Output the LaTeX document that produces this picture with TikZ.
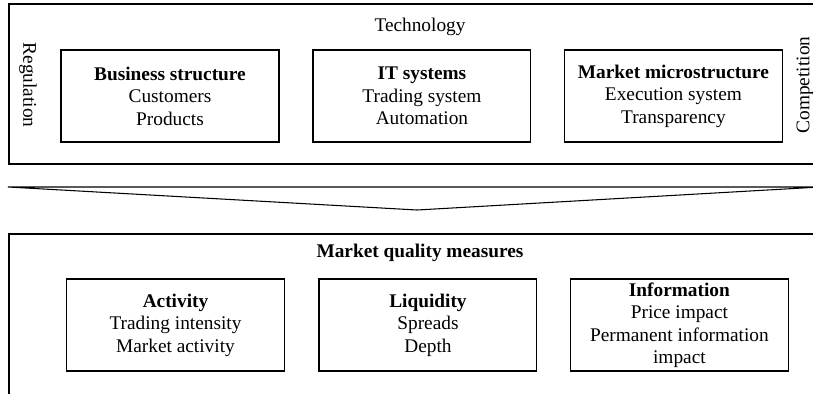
\documentclass[tikz,border=0pt]{standalone}
\usepackage{fontspec}
\setmainfont{Liberation Serif}
\begin{document}
\begin{tikzpicture}[x=0.02cm,y=-0.02cm,line width=0.6pt,
    every node/.style={font=\fontsize{11pt}{12.8pt}\selectfont},
    block/.style={rectangle,draw,align=center,minimum width=4.36cm,minimum height=1.84cm,inner sep=1pt}]
    \useasboundingbox (0,0) rectangle (813,393);
    \clip (0,0) rectangle (813,393);

    % upper frame
    \draw (9,4) rectangle (840,164);
    \node (tech) at (420,27) {Technology};
    \node[rotate=-90] (regul) at (28,85) {Regulation};
    \node[rotate=90] (compet) at (805,85) {Competition};

    \node[block] (bus_str) at (170,96) {\textbf{Business structure}\\Customers\\Products};
    \node[block,xshift=5.04cm] (it_sys) at (bus_str) {\textbf{IT systems}\\Trading system\\Automation};
    \node[block,xshift=5.03cm] (mkt_micro) at (it_sys) {\textbf{Market microstructure}\\Execution system\\Transparency};

    % wide arrow
    \draw (8,187) -- (820,187) -- (417,210) -- cycle;

    % lower frame
    \draw (840,234) -- (9,234) -- (9,400);
    \node (mq) at (420,253) {\textbf{Market quality measures}};

    \node[block] (activity) at (175.5,325) {\textbf{Activity}\\Trading intensity\\Market activity};
    \node[block,xshift=5.05cm] (liquidity) at (activity) {\textbf{Liquidity}\\Spreads\\Depth};
    \node[block,xshift=5.03cm] (information) at (liquidity) {\textbf{Information}\\Price impact\\Permanent information\\impact};
\end{tikzpicture}
\end{document}
